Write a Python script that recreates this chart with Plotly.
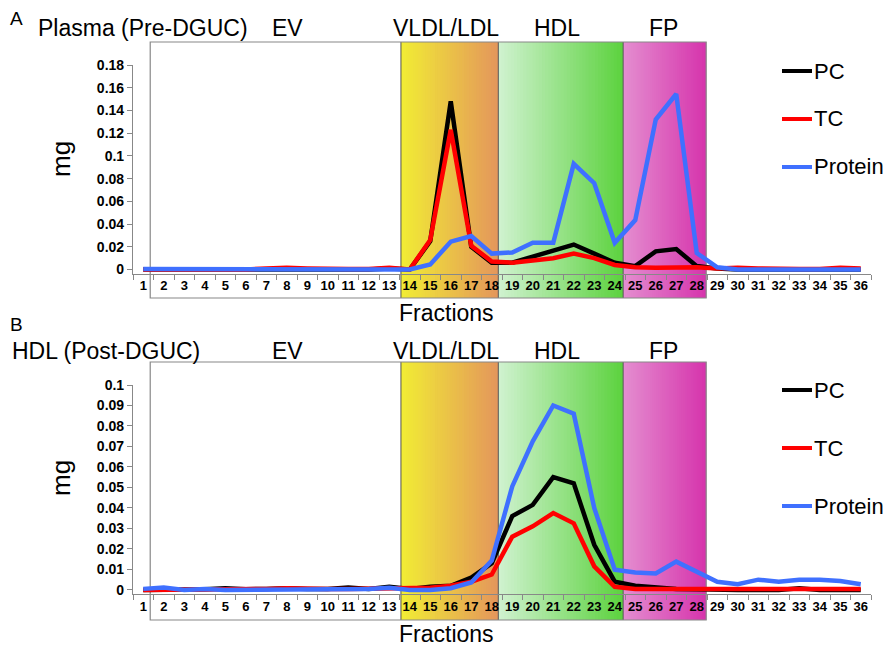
import plotly.graph_objects as go

fractions = [str(i) for i in range(1, 37)]

# Panel A: Plasma (Pre-DGUC)
a_pc = [0, 0, 0, 0, 0, 0, 0, 0, 0, 0, 0, 0, 0.001, 0, 0.025, 0.148, 0.020, 0.006,
        0.006, 0.011, 0.017, 0.022, 0.014, 0.006, 0.003, 0.016, 0.018, 0.003,
        0.001, 0, 0, 0, 0, 0, 0, 0]
a_tc = [0, 0, 0, 0, 0, 0, 0.001, 0.0015, 0.001, 0.0005, 0.0005, 0.0005, 0.0015, 0,
        0.026, 0.123, 0.021, 0.007, 0.006, 0.008, 0.010, 0.014, 0.010, 0.004,
        0.002, 0.0015, 0.002, 0.002, 0.001, 0.0015, 0.001, 0.0005, 0.0005,
        0.0005, 0.0015, 0.001]
a_protein = [0.0005, 0.0005, 0.0005, 0.0005, 0.0005, 0.0005, 0.0005, 0.0005, 0.0005,
             0.0005, 0.0005, 0.0005, 0.0005, 0, 0.0045, 0.0245, 0.0295, 0.014,
             0.015, 0.0235, 0.0235, 0.093, 0.076, 0.0235, 0.0435, 0.132, 0.1545,
             0.0145, 0.002, 0, 0, 0, 0, 0, 0, 0]

# Panel B: HDL (Post-DGUC)
b_pc = [0, 0, 0.0005, 0.0003, 0.0008, 0.0003, 0.0005, 0.0008, 0.0005, 0.0005,
        0.0012, 0.0005, 0.0015, 0.0005, 0.0015, 0.002, 0.006, 0.013, 0.036,
        0.0415, 0.055, 0.052, 0.022, 0.004, 0.002, 0.001, 0.0005, 0.0003, 0, 0,
        0, 0, 0.0008, 0, 0, 0]
b_tc = [0, 0, 0.0003, 0.0005, 0.0005, 0.0005, 0.0005, 0.0008, 0.0005, 0.0005,
        0.0005, 0.0005, 0.0005, 0.0005, 0.001, 0.002, 0.004, 0.0075, 0.026,
        0.031, 0.0375, 0.0325, 0.0115, 0.0015, 0.0005, 0.0005, 0.0005, 0.0005,
        0.0005, 0.0005, 0.0005, 0.0005, 0.0005, 0.0005, 0.0005, 0.0005]
b_protein = [0.0005, 0.0012, 0, 0.0005, 0, 0, 0.0003, 0.0005, 0.0005, 0.0003,
             0.0003, 0.0005, 0.001, 0, 0, 0.0008, 0.0036, 0.0143, 0.0505, 0.0725,
             0.090, 0.086, 0.040, 0.0098, 0.0085, 0.008, 0.0138, 0.009, 0.004,
             0.0028, 0.005, 0.004, 0.005, 0.005, 0.0043, 0.0028]

series_names = ["PC", "TC", "Protein"]
series_colors = ["#000000", "#FF0000", "#3F70FF"]
region_labels = ["EV", "VLDL/LDL", "HDL", "FP"]

a_ticks = [0, 0.02, 0.04, 0.06, 0.08, 0.1, 0.12, 0.14, 0.16, 0.18]
a_ticktext = ["0", "0.02", "0.04", "0.06", "0.08", "0.1", "0.12", "0.14", "0.16", "0.18"]
b_ticks = [0, 0.01, 0.02, 0.03, 0.04, 0.05, 0.06, 0.07, 0.08, 0.09, 0.1]
b_ticktext = ["0", "0.01", "0.02", "0.03", "0.04", "0.05", "0.06", "0.07", "0.08", "0.09", "0.1"]

# ---------------- layout geometry ----------------
W, H = 889, 649
L, R, T, B = 133, 18, 65, 55
PW, PH = W - L - R, H - T - B
BOT = H - B


def py(p):
    return (BOT - p) / PH


def px(p):
    return (p - L) / PW


FONT = "Liberation Sans, Arial, sans-serif"

fig = go.Figure()

panels = [
    ("x", "y", [a_pc, a_tc, a_protein]),
    ("x2", "y2", [b_pc, b_tc, b_protein]),
]
for xa, ya, data in panels:
    for name, col, vals in zip(series_names, series_colors, data):
        fig.add_trace(go.Scatter(x=fractions, y=vals, mode="lines", name=name,
                                 xaxis=xa, yaxis=ya, showlegend=False,
                                 line=dict(color=col, width=4.5)))

# ---------------- background region boxes ----------------
shapes = []
annotations = []

# region boundaries in category-index units
box_left, b_vldl, b_hdl, b_fp, box_right = 0.34, 12.57, 17.32, 23.41, 27.46
grads = [
    (b_vldl, b_hdl, (241, 237, 52), (228, 150, 92)),
    (b_hdl, b_fp, (208, 242, 208), (92, 210, 62)),
    (b_fp, box_right, (228, 142, 208), (214, 52, 172)),
]
N = 40
panel_boxes = [("x", 42, 298, 28, 18, 36, "A", "Plasma (Pre-DGUC)"),
               ("x2", 362, 620, 351, 324, 10, "B", "HDL (Post-DGUC)")]
for xr, top_px, bot_px, lab_px, let_px, title_x, letter, title in panel_boxes:
    y0, y1 = py(bot_px), py(top_px)
    shapes.append(dict(type="rect", xref=xr, yref="paper", x0=box_left, x1=b_vldl,
                       y0=y0, y1=y1, fillcolor="white", line=dict(width=0),
                       layer="below"))
    for xs, xe, c0, c1 in grads:
        for k in range(N):
            t = (k + 0.5) / N
            c = tuple(int(round(c0[j] + (c1[j] - c0[j]) * t)) for j in range(3))
            sx0 = xs + (xe - xs) * k / N
            sx1 = xs + (xe - xs) * (k + 2) / N
            shapes.append(dict(type="rect", xref=xr, yref="paper", x0=sx0,
                               x1=min(sx1, xe), y0=y0, y1=y1,
                               fillcolor="rgb(%d,%d,%d)" % c,
                               line=dict(width=0), layer="below"))
    for xb in (b_vldl, b_hdl, b_fp):
        shapes.append(dict(type="line", xref=xr, yref="paper", x0=xb, x1=xb,
                           y0=y0, y1=y1, line=dict(color="#555555", width=1),
                           layer="below"))
    shapes.append(dict(type="rect", xref=xr, yref="paper", x0=box_left,
                       x1=box_right, y0=y0, y1=y1,
                       line=dict(color="#888888", width=1.2), layer="below"))
    # titles
    annotations.append(dict(xref="paper", yref="paper", x=px(8), y=py(let_px),
                            text=letter, showarrow=False, xanchor="left",
                            yanchor="middle", font=dict(size=19, family=FONT,
                                                        color="black")))
    annotations.append(dict(xref="paper", yref="paper",
                            x=px(title_x), y=py(lab_px),
                            text=title, showarrow=False, xanchor="left",
                            yanchor="middle", font=dict(size=23, family=FONT,
                                                        color="black")))
    for lab, cx in zip(region_labels, (287, 446, 557, 663)):
        annotations.append(dict(xref="paper", yref="paper", x=px(cx),
                                y=py(lab_px), text=lab, showarrow=False,
                                xanchor="center", yanchor="middle",
                                font=dict(size=23, family=FONT, color="black")))

# axis titles
for mg_y, fr_y in ((159, 313), (478, 634)):
    annotations.append(dict(xref="paper", yref="paper", x=px(61), y=py(mg_y),
                            text="mg", textangle=-90, showarrow=False,
                            xanchor="center", yanchor="middle",
                            font=dict(size=26, family=FONT, color="black")))
    annotations.append(dict(xref="paper", yref="paper", x=px(446), y=py(fr_y),
                            text="Fractions", showarrow=False, xanchor="center",
                            yanchor="middle",
                            font=dict(size=23, family=FONT, color="black")))

# manual legends
for ys in ((71, 119, 167), (390, 448, 506)):
    for name, col, yy in zip(series_names, series_colors, ys):
        shapes.append(dict(type="line", xref="paper", yref="paper", x0=px(782),
                           x1=px(812), y0=py(yy), y1=py(yy),
                           line=dict(color=col, width=4)))
        annotations.append(dict(xref="paper", yref="paper", x=px(812), y=py(yy),
                                text=name, showarrow=False, xanchor="left",
                                yanchor="middle",
                                font=dict(size=22, family=FONT, color="black")))

axis_common_x = dict(type="category", tickson="boundaries", ticks="outside",
                     ticklen=5, tickcolor="#888888", showline=True,
                     linecolor="#888888", linewidth=1.2, showgrid=False,
                     zeroline=False, range=[-0.5, 35.5], tickangle=0,
                     tickfont=dict(size=13, family=FONT, color="black",
                                   weight="bold"))
axis_common_y = dict(ticks="outside", ticklen=5, tickcolor="#888888",
                     showline=True, linecolor="#888888", linewidth=1.2,
                     showgrid=False, zeroline=False,
                     tickfont=dict(size=14, family=FONT, color="black",
                                   weight="bold"))

fig.update_layout(
    width=W, height=H,
    margin=dict(l=L, r=R, t=T, b=B),
    paper_bgcolor="white",
    plot_bgcolor="rgba(0,0,0,0)",
    xaxis=dict(axis_common_x, anchor="y"),
    yaxis=dict(axis_common_y, domain=[py(273.5), 1.0], range=[-0.0035, 0.18],
               tickvals=a_ticks, ticktext=a_ticktext, anchor="x"),
    xaxis2=dict(axis_common_x, anchor="y2"),
    yaxis2=dict(axis_common_y, domain=[0.0, py(385)], range=[-0.002, 0.1],
                tickvals=b_ticks, ticktext=b_ticktext, anchor="x2"),
    shapes=shapes,
    annotations=annotations,
    showlegend=False,
)

fig.write_html("out.html",
               config={"displayModeBar": False},
               post_script="document.body.style.margin='0';"
                           "document.body.style.padding='0';")
